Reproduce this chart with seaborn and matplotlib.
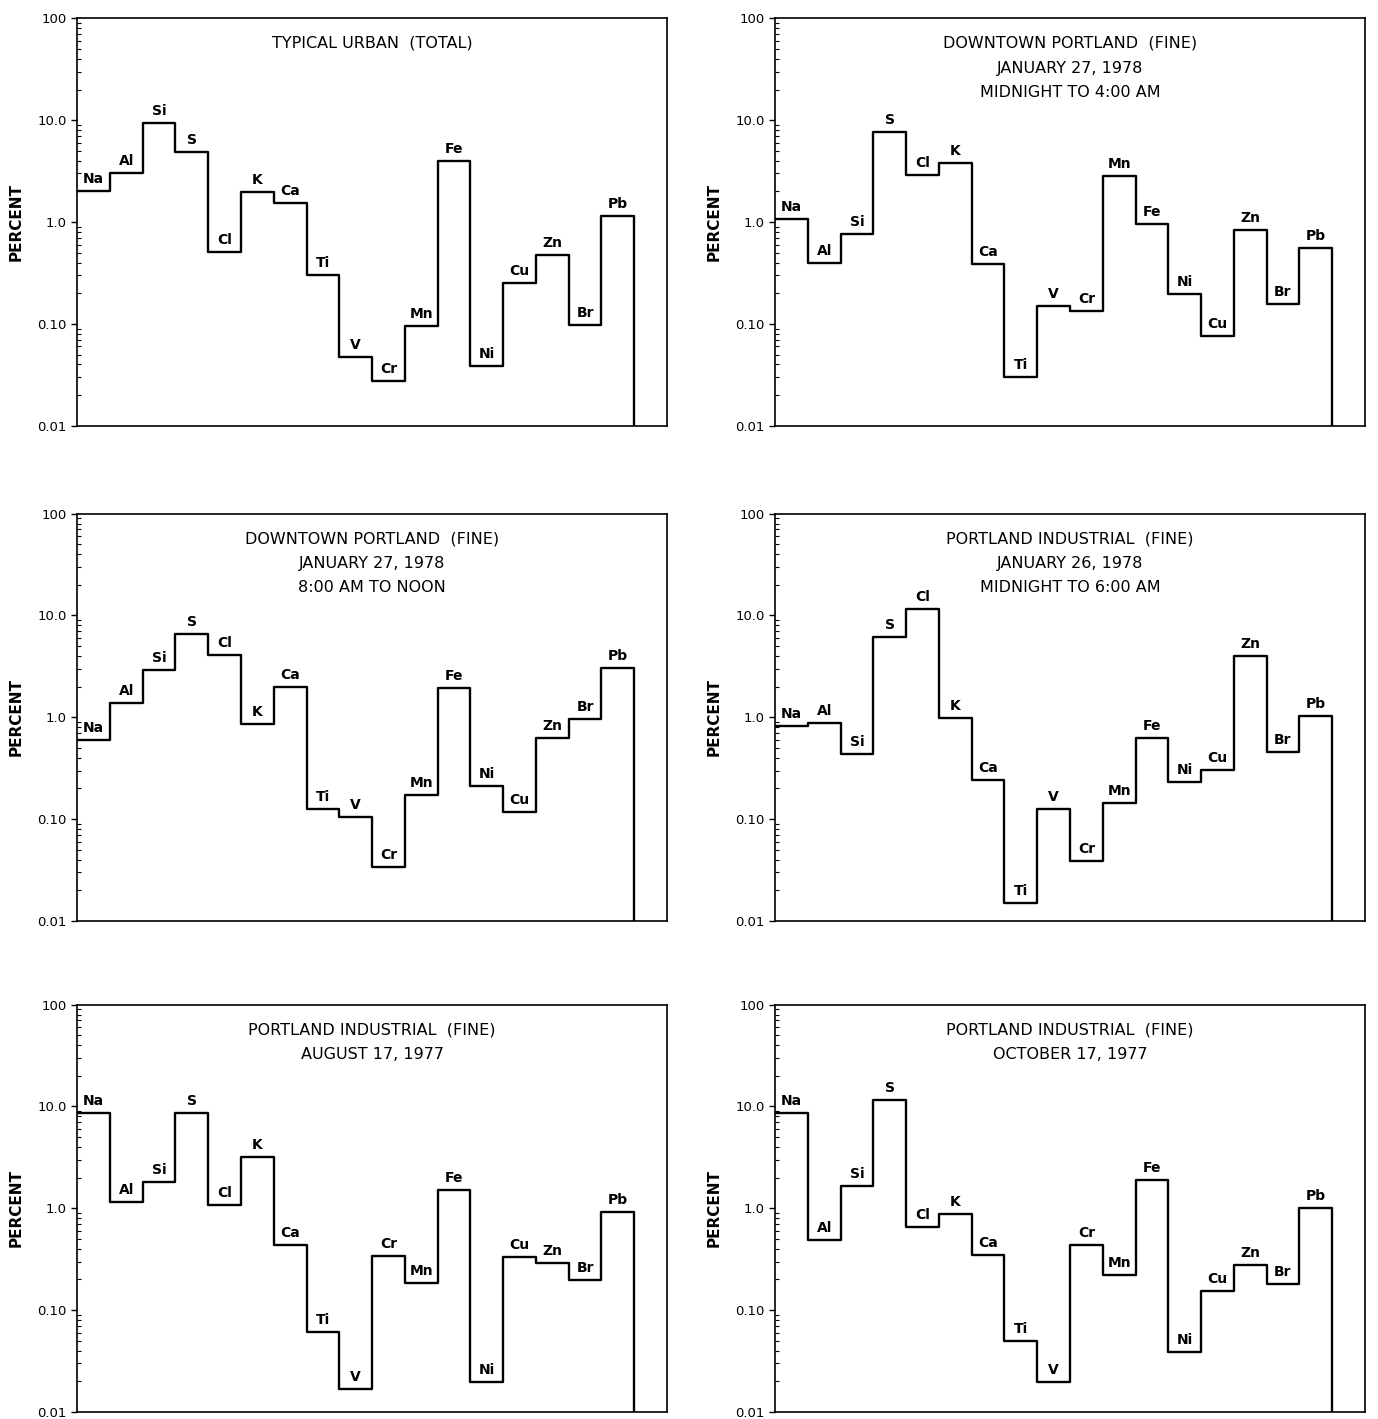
import matplotlib
matplotlib.use("Agg")
import matplotlib.pyplot as plt
import seaborn as sns
import pandas as pd
from matplotlib.ticker import FixedLocator, FixedFormatter, LogLocator, NullFormatter

# =====================================================
# DATA (percent of mass)
# =====================================================
elements = ["Na", "Al", "Si", "S", "Cl", "K", "Ca", "Ti", "V",
            "Cr", "Mn", "Fe", "Ni", "Cu", "Zn", "Br", "Pb"]

typical_urban = [2.0, 3.0, 9.3, 4.9, 0.51, 1.98, 1.55, 0.30, 0.047,
                 0.0275, 0.095, 4.0, 0.039, 0.25, 0.48, 0.098, 1.15]

downtown_night = [1.06, 0.40, 0.76, 7.6, 2.9, 3.8, 0.39, 0.030, 0.149,
                  0.135, 2.86, 0.95, 0.195, 0.076, 0.84, 0.156, 0.555]

downtown_day = [0.60, 1.38, 2.94, 6.6, 4.07, 0.85, 1.97, 0.126, 0.106,
                0.0335, 0.173, 1.95, 0.21, 0.117, 0.62, 0.97, 3.05]

industrial_jan = [0.82, 0.88, 0.44, 6.2, 11.5, 0.98, 0.24, 0.015, 0.125,
                  0.039, 0.144, 0.62, 0.23, 0.305, 4.0, 0.46, 1.03]

industrial_aug = [8.6, 1.15, 1.81, 8.6, 1.07, 3.2, 0.44, 0.061, 0.0169,
                  0.34, 0.186, 1.52, 0.0196, 0.334, 0.29, 0.198, 0.92]

industrial_oct = [8.7, 0.49, 1.64, 11.7, 0.66, 0.87, 0.35, 0.050, 0.0196,
                  0.44, 0.22, 1.9, 0.0386, 0.155, 0.275, 0.18, 1.0]

titles = [
    "TYPICAL URBAN  (TOTAL)",
    "DOWNTOWN PORTLAND  (FINE)\nJANUARY 27, 1978\nMIDNIGHT TO 4:00 AM",
    "DOWNTOWN PORTLAND  (FINE)\nJANUARY 27, 1978\n8:00 AM TO NOON",
    "PORTLAND INDUSTRIAL  (FINE)\nJANUARY 26, 1978\nMIDNIGHT TO 6:00 AM",
    "PORTLAND INDUSTRIAL  (FINE)\nAUGUST 17, 1977",
    "PORTLAND INDUSTRIAL  (FINE)\nOCTOBER 17, 1977",
]
series = [typical_urban, downtown_night, downtown_day,
          industrial_jan, industrial_aug, industrial_oct]

y_ticks = [0.01, 0.1, 1, 10, 100]
y_tick_labels = ["0.01", "0.10", "1.0", "10.0", "100"]
y_min, y_max = 0.01, 100

# =====================================================
# FIGURE
# =====================================================
sns.set_style("white")
plt.rcParams["font.family"] = ["DejaVu Sans"]
plt.rcParams["text.color"] = "black"
plt.rcParams["axes.labelcolor"] = "black"
plt.rcParams["ytick.color"] = "black"

fig = plt.figure(figsize=(13.78, 14.19), dpi=100)

col_left = [0.056, 0.5625]
col_width = 0.428
row_bottom = [0.700, 0.351, 0.005]
row_height = 0.287

for k, (vals, title) in enumerate(zip(series, titles)):
    r, c = divmod(k, 2)
    ax = fig.add_axes([col_left[c], row_bottom[r], col_width, row_height])

    # steps: each element fills one unit, then drop to the floor after Pb
    df = pd.DataFrame({
        "x": list(range(len(elements) + 1)),
        "y": list(vals) + [y_min],
    })
    sns.lineplot(data=df, x="x", y="y", ax=ax, drawstyle="steps-post",
                 color="black", linewidth=1.7, estimator=None, sort=False)

    ax.set_yscale("log")
    ax.set_ylim(y_min, y_max)
    ax.set_xlim(0, len(elements) + 1)

    # element labels above each step
    for i, (el, v) in enumerate(zip(elements, vals)):
        ax.text(i + 0.5, v * 1.12, el, ha="center", va="bottom",
                fontsize=10, fontweight="semibold", color="black")

    ax.text(0.5, 0.957, title, transform=ax.transAxes, ha="center", va="top",
            fontsize=11.5, linespacing=1.8, color="black")

    ax.yaxis.set_major_locator(FixedLocator(y_ticks))
    ax.yaxis.set_major_formatter(FixedFormatter(y_tick_labels))
    ax.yaxis.set_minor_locator(LogLocator(base=10, subs=range(2, 10)))
    ax.yaxis.set_minor_formatter(NullFormatter())
    ax.tick_params(axis="y", which="major", direction="out", length=4,
                   width=1, labelsize=9.5, left=True, colors="black")
    ax.tick_params(axis="y", which="minor", direction="in", length=3,
                   width=0.8, left=True, colors="black")
    ax.set_xticks([])
    ax.set_xlabel("")
    ax.set_ylabel("PERCENT", fontsize=11, fontweight="semibold", labelpad=10)

    for s in ax.spines.values():
        s.set_visible(True)
        s.set_color("black")
        s.set_linewidth(1.2)

plt.savefig("out.png", dpi=100, facecolor="white")
plt.close()
